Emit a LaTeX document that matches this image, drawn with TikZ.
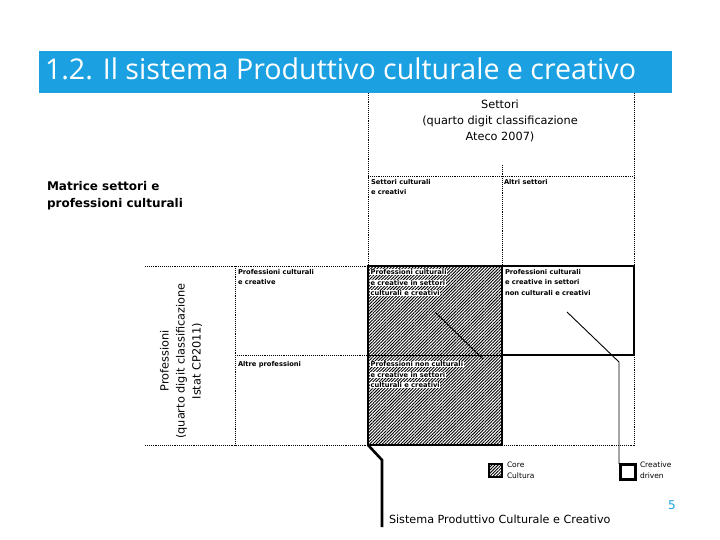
\documentclass[tikz,border=0pt]{standalone}
\usepackage{fontspec}
\setmainfont{DejaVu Sans}
\newfontfamily\titlefont{Open Sans}
\usetikzlibrary{patterns.meta,positioning}
\definecolor{barblue}{RGB}{27,161,226}
\newcommand{\wl}[1]{{\setlength{\fboxsep}{0.6pt}\colorbox{white}{#1}}}
\newcommand{\tightlines}{\setlength{\lineskiplimit}{-5pt}}

\begin{document}
\begin{tikzpicture}[x=1pt,y=-1pt,every node/.style={outer sep=0pt,inner sep=0pt},
    grid/.style={densely dotted,line width=0.9pt},
    frame/.style={line width=2.6pt},
    hatch/.style={pattern={Lines[angle=45,distance=2.2pt,line width=0.9pt]}},
    small/.style={font=\bfseries\fontsize{6.7}{10.5}\selectfont\tightlines,align=left,anchor=north west},
    head/.style={font=\fontsize{11.3}{16}\selectfont,align=center},
    legend/.style={font=\fontsize{7.5}{11}\selectfont,align=left,anchor=north west}]

  \useasboundingbox (0,0) rectangle (720,540);

  % title bar
  \fill[barblue] (39,51) rectangle (672,93);
  \node[anchor=base west,text=white,font=\titlefont\fontsize{28.6}{30}\selectfont] (title)
    at (45,80) {1.2. Il sistema Produttivo culturale e creativo};

  % grid columns and rows
  \coordinate (c0) at (145,0); \coordinate (c1) at (235,0);
  \coordinate (c2) at (368,0); \coordinate (c3) at (502,0);
  \coordinate (c4) at (634,0);
  \coordinate (r0) at (0,93);  \coordinate (rA) at (0,165);
  \coordinate (r1) at (0,176); \coordinate (r2) at (0,266);
  \coordinate (r3) at (0,355); \coordinate (r4) at (0,445);

  \draw[grid] (c2|-r0) -- (c2|-r4);
  \draw[grid] (c4|-r0) -- (c4|-r4);
  \draw[grid] (c2|-r1) -- (c4|-r1);
  \draw[grid] (c3|-rA) -- (c3|-r2);
  \draw[grid] (c0|-r2) -- (c4|-r2);
  \draw[grid] (c1|-r2) -- (c1|-r4);
  \draw[grid] (c1|-r3) -- (c4|-r3);
  \draw[grid] (c0|-r4) -- (c4|-r4);

  % core cultura area
  \fill[white] (c2|-r2) rectangle (c3|-r4);
  \fill[hatch] (c2|-r2) rectangle (c3|-r4);
  \draw[line width=1pt] (c2|-r3) -- (c3|-r3);
  \draw[line width=0.9pt] (435,312) -- (483,359);
  \draw[frame] (c2|-r4) rectangle (c3|-r2);
  \draw[frame] (c3|-r2) -| (c4|-r3) -- (c3|-r3);

  % headings
  \node[head] (sett) at (500,121) {Settori\\(quarto digit classificazione\\Ateco 2007)};
  \node[head,rotate=90] (prof) at (181,361) {Professioni\\(quarto digit classificazione\\Istat CP2011)};
  \node[anchor=north west,align=left,font=\bfseries\fontsize{12}{17}\selectfont] (matr)
    at (47,181) {Matrice settori e\\professioni culturali};

  % cell labels
  \node[small] (sc) at (371,179) {Settori culturali\\e creativi};
  \node[small] (as) at (504,179) {Altri settori};
  \node[small] (pc) at (238,269) {Professioni culturali\\e creative};
  \node[small] (ap) at (238,361) {Altre professioni};
  \node[small] (pcc) at (370,269) {\wl{Professioni culturali}\\\wl{e creative in settori}\\\wl{culturali e creativi}};
  \node[small] (pcn) at (505,269) {Professioni culturali\\e creative in settori\\non culturali e creativi};
  \node[small] (pnc) at (370,361) {\wl{Professioni non culturali}\\\wl{e creative in settori}\\\wl{culturali e creativi}};

  % legend
  \node[draw,line width=1.5pt,hatch,minimum size=13pt] (core) at (495.5,470.5) {};
  \node[legend] (corel) at (507,462) {Core\\Cultura};
  \node[draw,line width=3pt,minimum size=15pt] (cd) at (628,471.5) {};
  \node[legend] (cdl) at (640,462) {Creative\\driven};

  \coordinate (bend) at (619,362);
  \draw[line width=0.9pt] (567,312) -- (bend) -- (bend|-cd.north);

  % sistema produttivo
  \node[anchor=base west,font=\fontsize{11.2}{13}\selectfont] (spc)
    at (389,523) {Sistema Produttivo Culturale e Creativo};
  \coordinate (foot) at (382,527);
  \draw[frame] (c2|-r4) -- (foot|-0,460) -- (foot);

  \node[anchor=base west,text=barblue,font=\fontsize{12}{14}\selectfont] (page)
    at (668,509) {5};
\end{tikzpicture}
\end{document}
